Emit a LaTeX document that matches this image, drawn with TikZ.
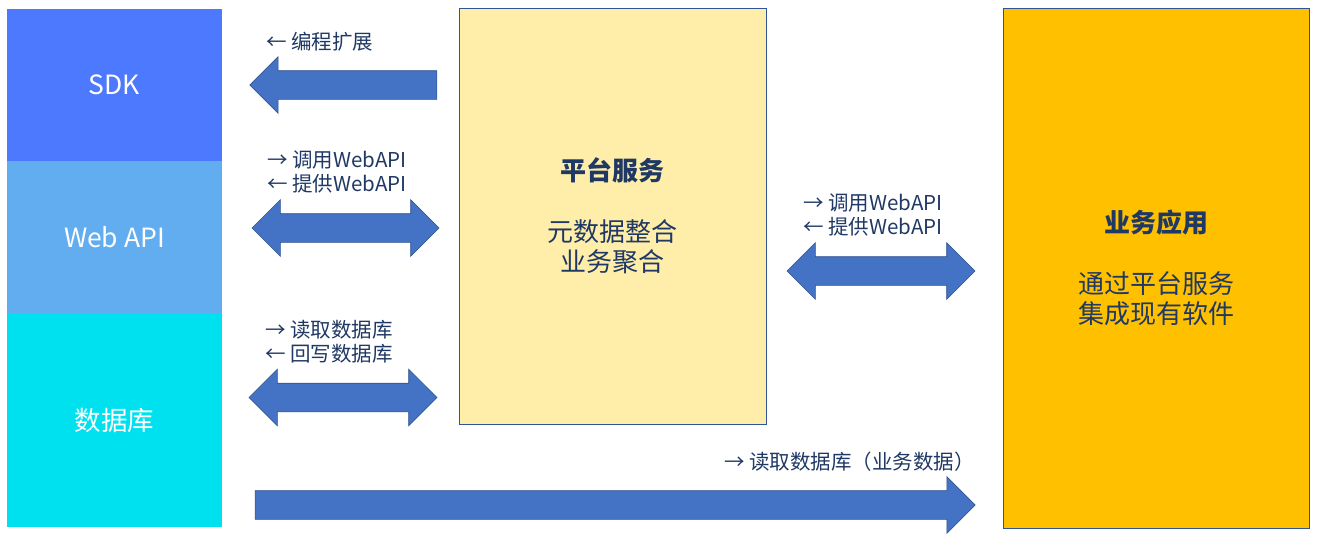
\documentclass[tikz,border=0pt]{standalone}
\usepackage{fontspec}
\setmainfont{Noto Sans CJK SC}
\usetikzlibrary{shapes.arrows}
\definecolor{sdkblue}{HTML}{4D79FF}
\definecolor{apiblue}{HTML}{61ADEF}
\definecolor{dbcyan}{HTML}{00E1EF}
\definecolor{platyellow}{HTML}{FFEEAA}
\definecolor{appgold}{HTML}{FFC000}
\definecolor{navy}{HTML}{1F3864}
\definecolor{arrowblue}{HTML}{4472C4}
\definecolor{arrowedge}{HTML}{2F528F}
\definecolor{boxedge}{HTML}{2F5597}

\begin{document}
\begin{tikzpicture}[
  x=1pt, y=-1pt,
  tierbox/.style={
    fill=#1, text=white, minimum width=215pt, inner sep=0pt,
    font=\fontsize{26.5}{31}\selectfont
  },
  svcbox/.style={
    draw=boxedge, line width=0.8pt, fill=#1, text=navy,
    align=center, inner sep=0pt, font=\fontsize{26}{30}\selectfont
  },
  blockarrow/.style={
    single arrow, draw=arrowedge, fill=arrowblue, line width=0.6pt,
    minimum width=56pt, single arrow head extend=14pt,
    single arrow tip angle=90, inner xsep=0pt, inner ysep=14pt
  },
  dblarrow/.style={
    double arrow, draw=arrowedge, fill=arrowblue, line width=0.6pt,
    minimum width=56pt, double arrow head extend=14pt,
    double arrow tip angle=90, inner xsep=0pt, inner ysep=14pt
  },
  note/.style={
    font=\fontsize{20.5}{24}\selectfont, text=navy,
    align=left, anchor=west, inner sep=0pt
  },
]

\useasboundingbox (0,0) rectangle (1317,538);

% ---- Left column ----
\node[tierbox=sdkblue, minimum height=152pt] (sdk) at (114.5,85) {SDK};
\node[tierbox=apiblue, minimum height=152pt] (webapi) at (114.5,237) {Web API};
\node[tierbox=dbcyan, minimum height=214pt] (db) at (114.5,420) {数据库};

% ---- Platform service ----
\node[svcbox=platyellow, minimum width=307pt, minimum height=416pt]
  (platform) at (612.5,216)
  {\textbf{平台服务}\\[31pt]元数据整合\\业务聚合};

% ---- Business application ----
\node[svcbox=appgold, minimum width=306pt, minimum height=520pt]
  (app) at (1156,268)
  {\textbf{业务应用}\\[31pt]通过平台服务\\集成现有软件};

% ---- Block arrows ----
\node[blockarrow, shape border rotate=180, minimum height=187pt] (extarrow) at (350.5,85) {};
\node[dblarrow, minimum height=187pt] (apiarrow) at (345.5,228) {};
\node[dblarrow, minimum height=188pt] (dbarrow) at (343,397.5) {};
\node[dblarrow, minimum height=188pt] (apparrow) at (881,271) {};
\node[blockarrow, minimum height=720pt] (readarrow) at (608,505) {};

% ---- Arrow labels ----
\node[note] (extlabel) at (266,42) {← 编程扩展};
\node[note] (apilabel) at (267,172) {→ 调用WebAPI\\← 提供WebAPI};
\node[note] (dblabel) at (265,342) {→ 读取数据库\\← 回写数据库};
\node[note] (applabel) at (803,215) {→ 调用WebAPI\\← 提供WebAPI};
\node[note] (readlabel) at (724,462) {→ 读取数据库（业务数据）};

\end{tikzpicture}
\end{document}
